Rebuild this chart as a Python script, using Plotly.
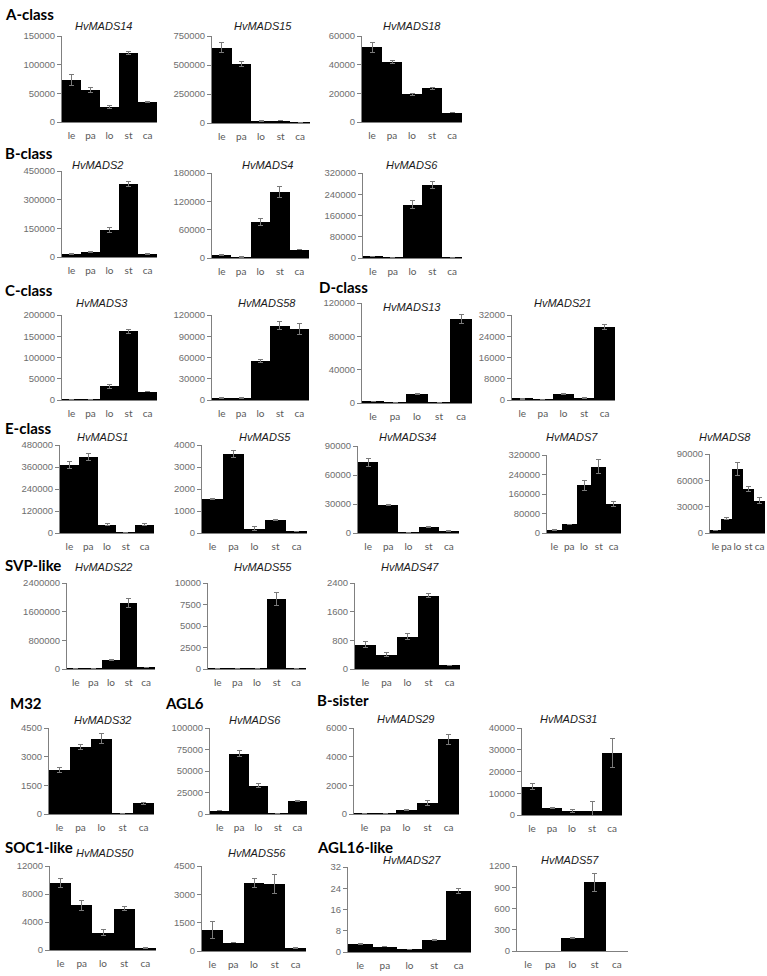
import plotly.graph_objects as go

W, H = 767, 976
tissues = ["le", "pa", "lo", "st", "ca"]

# ---- data ----
hvmads14 = [73000, 56000, 26000, 120000, 35000]
hvmads14_err = [9000, 4000, 2000, 3000, 1000]
hvmads14_ticks = [0, 50000, 100000, 150000]

hvmads15 = [650000, 510000, 18000, 20000, 5000]
hvmads15_err = [45000, 20000, 1000, 2000, 500]
hvmads15_ticks = [0, 250000, 500000, 750000]

hvmads18 = [52000, 42000, 19500, 23500, 6500]
hvmads18_err = [3500, 1000, 700, 800, 200]
hvmads18_ticks = [0, 20000, 40000, 60000]

hvmads2 = [15000, 25000, 140000, 380000, 15000]
hvmads2_err = [3000, 3000, 13000, 13000, 3000]
hvmads2_ticks = [0, 150000, 300000, 450000]

hvmads4 = [6000, 2000, 76000, 140000, 18000]
hvmads4_err = [1000, 1500, 7000, 11000, 500]
hvmads4_ticks = [0, 60000, 120000, 180000]

hvmads6 = [5000, 3000, 200000, 275000, 3000]
hvmads6_err = [800, 500, 15000, 12000, 500]
hvmads6_ticks = [0, 80000, 160000, 240000, 320000]

hvmads3 = [2000, 1000, 32000, 162000, 20000]
hvmads3_err = [300, 200, 4000, 5000, 1000]
hvmads3_ticks = [0, 50000, 100000, 150000, 200000]

hvmads58 = [3000, 3000, 55000, 105000, 100000]
hvmads58_err = [300, 300, 1500, 6000, 8000]
hvmads58_ticks = [0, 30000, 60000, 90000, 120000]

hvmads13 = [2000, 500, 10500, 500, 101000]
hvmads13_err = [200, 100, 500, 100, 5000]
hvmads13_ticks = [0, 40000, 80000, 120000]

hvmads21 = [400, 200, 2300, 800, 27500]
hvmads21_err = [50, 30, 300, 50, 1000]
hvmads21_ticks = [0, 8000, 16000, 24000, 32000]

hvmads1 = [370000, 415000, 45000, 3000, 45000]
hvmads1_err = [20000, 20000, 5000, 500, 5000]
hvmads1_ticks = [0, 120000, 240000, 360000, 480000]

hvmads5 = [1550, 3600, 200, 600, 80]
hvmads5_err = [30, 150, 80, 20, 10]
hvmads5_ticks = [0, 1000, 2000, 3000, 4000]

hvmads34 = [73000, 29000, 500, 6000, 2000]
hvmads34_err = [4500, 500, 100, 800, 200]
hvmads34_ticks = [0, 30000, 60000, 90000]

hvmads7 = [13000, 35000, 195000, 272000, 120000]
hvmads7_err = [1500, 1000, 20000, 28000, 10000]
hvmads7_ticks = [0, 80000, 160000, 240000, 320000]

hvmads8 = [3000, 16500, 73000, 50000, 37000]
hvmads8_err = [300, 1500, 7000, 3000, 3500]
hvmads8_ticks = [0, 30000, 60000, 90000]

hvmads22 = [5000, 3000, 250000, 1850000, 40000]
hvmads22_err = [1000, 500, 15000, 130000, 10000]
hvmads22_ticks = [0, 800000, 1600000, 2400000]

hvmads55 = [20, 20, 80, 8100, 30]
hvmads55_err = [5, 5, 20, 750, 5]
hvmads55_ticks = [0, 2500, 5000, 7500, 10000]

hvmads47 = [680, 400, 900, 2050, 100]
hvmads47_err = [80, 50, 80, 60, 10]
hvmads47_ticks = [0, 800, 1600, 2400]

hvmads32 = [2300, 3500, 3950, 20, 550]
hvmads32_err = [130, 120, 280, 5, 30]
hvmads32_ticks = [0, 1500, 3000, 4500]

hvmads6_agl6 = [4000, 70000, 33000, 200, 15000]
hvmads6_agl6_err = [300, 3500, 2500, 50, 1000]
hvmads6_agl6_ticks = [0, 25000, 50000, 75000, 100000]

hvmads29 = [50, 50, 300, 780, 5200]
hvmads29_err = [10, 10, 40, 180, 350]
hvmads29_ticks = [0, 2000, 4000, 6000]

hvmads31 = [13000, 3300, 1800, 1800, 28500]
hvmads31_err = [1300, 300, 800, 4300, 6500]
hvmads31_ticks = [0, 10000, 20000, 30000, 40000]

hvmads50 = [9600, 6400, 2500, 5900, 300]
hvmads50_err = [600, 700, 450, 300, 30]
hvmads50_ticks = [0, 4000, 8000, 12000]

hvmads56 = [1100, 450, 3600, 3550, 150]
hvmads56_err = [450, 20, 230, 480, 30]
hvmads56_ticks = [0, 1500, 3000, 4500]

hvmads27 = [3, 2, 1, 4.5, 23]
hvmads27_err = [0.1, 0.1, 0.05, 0.2, 1]
hvmads27_ticks = [0, 8, 16, 24, 32]

hvmads57 = [0, 0, 180, 970, 0]
hvmads57_err = [0, 0, 5, 130, 0]
hvmads57_ticks = [0, 300, 600, 900, 1200]

# ---- layout: (title, values, errors, ticks, x0, x1, ytop, yzero, title_x, title_y) ----
panels = [
    ("HvMADS14", hvmads14, hvmads14_err, hvmads14_ticks, 62, 157, 36, 122, 103, 26),
    ("HvMADS15", hvmads15, hvmads15_err, hvmads15_ticks, 212, 310, 36, 123, 263, 26),
    ("HvMADS18", hvmads18, hvmads18_err, hvmads18_ticks, 362, 462, 36, 122, 412, 26),
    ("HvMADS2", hvmads2, hvmads2_err, hvmads2_ticks, 62, 157, 171, 257, 97, 165),
    ("HvMADS4", hvmads4, hvmads4_err, hvmads4_ticks, 212, 309, 173, 258, 267, 165),
    ("HvMADS6", hvmads6, hvmads6_err, hvmads6_ticks, 363, 462, 173, 258, 412, 165),
    ("HvMADS3", hvmads3, hvmads3_err, hvmads3_ticks, 62, 157, 315, 400, 102, 303),
    ("HvMADS58", hvmads58, hvmads58_err, hvmads58_ticks, 212, 309, 315, 400, 267, 303),
    ("HvMADS13", hvmads13, hvmads13_err, hvmads13_ticks, 362, 472, 303, 403, 412, 307),
    ("HvMADS21", hvmads21, hvmads21_err, hvmads21_ticks, 512, 615, 315, 400, 562, 303),
    ("HvMADS1", hvmads1, hvmads1_err, hvmads1_ticks, 60, 154, 445, 533, 102, 437),
    ("HvMADS5", hvmads5, hvmads5_err, hvmads5_ticks, 202, 307, 445, 533, 265, 437),
    ("HvMADS34", hvmads34, hvmads34_err, hvmads34_ticks, 358, 459, 446, 533, 407, 437),
    ("HvMADS7", hvmads7, hvmads7_err, hvmads7_ticks, 547, 621, 455, 533, 572, 437),
    ("HvMADS8", hvmads8, hvmads8_err, hvmads8_ticks, 710, 765, 454, 533, 725, 437),
    ("HvMADS22", hvmads22, hvmads22_err, hvmads22_ticks, 67, 155, 583, 669, 103, 567),
    ("HvMADS55", hvmads55, hvmads55_err, hvmads55_ticks, 208, 306, 583, 669, 263, 567),
    ("HvMADS47", hvmads47, hvmads47_err, hvmads47_ticks, 355, 460, 583, 669, 410, 567),
    ("HvMADS32", hvmads32, hvmads32_err, hvmads32_ticks, 49, 154, 728, 814, 102, 720),
    ("HvMADS6", hvmads6_agl6, hvmads6_agl6_err, hvmads6_agl6_ticks, 210, 307, 728, 814, 255, 720),
    ("HvMADS29", hvmads29, hvmads29_err, hvmads29_ticks, 354, 459, 728, 814, 405, 719),
    ("HvMADS31", hvmads31, hvmads31_err, hvmads31_ticks, 522, 622, 728, 815, 568, 719),
    ("HvMADS50", hvmads50, hvmads50_err, hvmads50_ticks, 50, 156, 866, 950, 105, 853),
    ("HvMADS56", hvmads56, hvmads56_err, hvmads56_ticks, 202, 306, 866, 951, 257, 853),
    ("HvMADS27", hvmads27, hvmads27_err, hvmads27_ticks, 348, 471, 867, 952, 412, 860),
    ("HvMADS57", hvmads57, hvmads57_err, hvmads57_ticks, 517, 628, 866, 951, 570, 860),
]

sections = [
    ("A-class", 3, 14), ("B-class", 3, 153), ("C-class", 3, 290), ("D-class", 317, 287),
    ("E-class", 3, 428), ("SVP-like", 3, 565), ("M32", 8, 703), ("AGL6", 163, 703),
    ("B-sister", 315, 700), ("SOC1-like", 3, 847), ("AGL16-like", 315, 847),
]

AXIS_COLOR = "#808080"
TICK_FONT = dict(family="Liberation Sans, Arial", size=9.5, color="#6e6e6e")
CAT_FONT = dict(family="Lato, Open Sans", size=10, color="#595959")

fig = go.Figure()
layout = dict(
    template="none",
    width=W, height=H, margin=dict(l=0, r=0, t=0, b=0, pad=0, autoexpand=False),
    paper_bgcolor="white", plot_bgcolor="white",
    bargap=0, showlegend=False, annotations=[],
)

for i, (title, vals, errs, ticks, x0, x1, ytop, yzero, tx, ty) in enumerate(panels, start=1):
    suffix = "" if i == 1 else str(i)
    fig.add_trace(go.Bar(
        x=tissues, y=vals,
        marker=dict(color="black", line=dict(width=0)),
        error_y=dict(type="data", array=errs, visible=True, color="#7a7a7a", thickness=1, width=2.5),
        xaxis=f"x{suffix}", yaxis=f"y{suffix}", hoverinfo="x+y",
    ))
    layout[f"xaxis{suffix}"] = dict(
        domain=[x0 / W, x1 / W], anchor=f"y{suffix}", range=[-0.5, 4.5],
        type="category", tickmode="array", tickvals=tissues, ticktext=tissues,
        tickangle=0,
        showline=True, linecolor=AXIS_COLOR, linewidth=1, ticks="", showgrid=False,
        zeroline=False, tickfont=CAT_FONT, ticklabelstandoff=4, fixedrange=True,
        automargin=False,
    )
    layout[f"yaxis{suffix}"] = dict(
        domain=[1 - yzero / H, 1 - ytop / H], anchor=f"x{suffix}", range=[0, ticks[-1]],
        tickmode="array", tickvals=ticks, ticktext=[f"{t:d}" for t in ticks],
        showline=True, linecolor=AXIS_COLOR, linewidth=1, ticks="outside", ticklen=4,
        tickcolor=AXIS_COLOR, showgrid=False, zeroline=False, tickfont=TICK_FONT,
        fixedrange=True, automargin=False,
    )
    layout["annotations"].append(dict(
        text=f"<i>{title}</i>", x=tx / W, y=1 - ty / H, xref="paper", yref="paper",
        xanchor="center", yanchor="middle", showarrow=False,
        font=dict(family="Liberation Sans, Arial", size=11, color="#1a1a1a"),
    ))

for text, sx, sy in sections:
    layout["annotations"].append(dict(
        text=f"<b>{text}</b>", x=sx / W, y=1 - sy / H, xref="paper", yref="paper",
        xanchor="left", yanchor="middle", showarrow=False,
        font=dict(family="Lato, Open Sans", size=15, color="black"),
    ))

fig.update_layout(**layout)
fig.write_html(
    "out.html",
    config={"displayModeBar": False},
    post_script="document.body.style.margin='0';document.body.style.padding='0';"
                "document.documentElement.style.overflow='hidden';",
)
